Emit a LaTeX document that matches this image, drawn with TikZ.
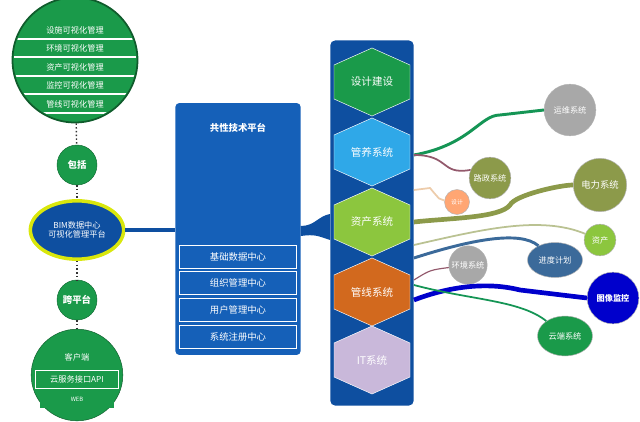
\documentclass[tikz,border=0pt]{standalone}
\usepackage{fontspec}
\setmainfont{Noto Sans CJK SC}
\usepackage{tikz}
\usetikzlibrary{shapes.geometric}
\definecolor{dark-green}{HTML}{1A9A4A}
\definecolor{panel-blue}{HTML}{1560B8}
\definecolor{deep-blue}{HTML}{0E4FA0}
\definecolor{pale-lav}{HTML}{C9B8DA}
\definecolor{hex-blue}{HTML}{2FA8E8}
\definecolor{hex-lime}{HTML}{8CC63E}
\definecolor{hex-orange}{HTML}{D2691E}
\definecolor{olive}{HTML}{8C9A4A}
\definecolor{grey-node}{HTML}{A8A8A8}
\definecolor{steel}{HTML}{3B6A9A}
\tikzset{ball/.style = {circle, draw=dark-green!70!black, fill=dark-green, text=white, align=center, font=\bfseries\footnotesize}}
\tikzset{stripe/.style = {fill=dark-green, text=white, minimum height=15, inner sep=0pt, font=\scriptsize}}
\tikzset{centre/.style = {draw=white, fill=panel-blue, text=white, minimum width=3.5cm, minimum height=0.7cm, font=\footnotesize}}
\tikzset{hexlabel/.style = {text=white, font=\small}}
\tikzset{leaf/.style = {circle, draw=gray!60, text=white, font=\scriptsize, inner sep=1pt, align=center}}
\tikzset{dots/.style = {very thick, dotted, gray!40!black}}

\begin{document}
\begin{tikzpicture}[x=0.03cm, y=-0.03cm]
\useasboundingbox (0,0) rectangle (640,422);

% left column
\node[circle, draw=dark-green!60!black, line width=1.5pt, fill=dark-green, minimum size=3.75cm] (top) at (75,60) {};
\begin{scope}
  \clip (75,60) circle (61);
  \foreach \y in {39, 57, 76, 94, 113}
    \draw[white, line width=2.5pt] (0,\y) -- (160,\y);
\end{scope}
\foreach \t/\y in {设施可视化管理/30, 环境可视化管理/48, 资产可视化管理/67, 监控可视化管理/85, 管线可视化管理/104}
  \node[text=white, font=\scriptsize] at (75,\y) {\t};
\node[ball, minimum size=1.2cm] (inc) at (77,165) {包括};
\node[ellipse, draw=yellow!85!green, line width=3pt, fill=deep-blue, text=white, minimum width=2.8cm, minimum height=1.75cm, align=center, font=\scriptsize] (bim) at (77,230) {BIM数据中心\\可视化管理平台};
\node[ball, minimum size=1.2cm] (cross) at (77,300) {跨平台};
\node[circle, draw=dark-green!60!black, fill=dark-green, minimum size=2.75cm] (bot) at (77,375) {};
\node[text=white, font=\scriptsize] (c1) at (77,357) {客户端};
\node[stripe, minimum width=2.5cm, draw=white] (c2) at (77,379) {云服务接口API};
\node[stripe, minimum width=2.2cm, font=\tiny] (c3) at (77,399) {WEB};
\draw[dots] (top) -- (inc);
\draw[dots] (inc) -- (bim);
\draw[dots] (bim) -- (cross);
\draw[dots] (cross) -- (bot);

% centre panel
\node[rounded corners=3pt, fill=panel-blue, minimum width=3.75cm, minimum height=7.55cm] (plat) at (238,229) {};
\node[text=white, font=\bfseries\footnotesize] (ptitle) at (238,128) {共性技术平台};
\foreach \t/\y/\n in {基础数据中心/257/p1, 组织管理中心/283/p2, 用户管理中心/310/p3, 系统注册中心/337/p4}
  \node[centre] (\n) at (238,\y) {\t};
\draw[deep-blue, line width=3pt] (bim.east) -- (plat.west |- bim.east);

% right column
\node[rounded corners=4pt, fill=deep-blue, minimum width=2.5cm, minimum height=10.95cm] (sys) at (372,223) {};
\fill[deep-blue] (plat.east |- 0,226) .. controls (315,226) and (318,216) .. (sys.west |- 0,214) -- (sys.west |- 0,240) .. controls (318,236) and (315,234) .. (plat.east |- 0,236) -- cycle;
\foreach \y/\c/\t/\n in {82/dark-green/设计建设/h1, 152/hex-blue/管养系统/h2, 222/hex-lime/资产系统/h3, 292/hex-orange/管线系统/h4, 360/pale-lav/IT系统/h5} {
  \filldraw[fill=\c, draw=white] (334,\y-17) -- (372,\y-34) -- (410,\y-17) -- (410,\y+17) -- (372,\y+34) -- (334,\y+17) -- cycle;
  \node[hexlabel] (\n) at (372,\y) {\t};
}

% leaves
\node[leaf, fill=grey-node, minimum size=1.55cm] (yw) at (570,110) {运维系统};
\node[leaf, fill=olive, minimum size=1.25cm] (lz) at (490,178) {路政系统};
\node[leaf, fill=orange!40!pink, minimum size=0.75cm, font=\tiny] (sj) at (457,202) {设计};
\node[leaf, fill=olive, minimum size=1.6cm, font=\footnotesize] (dl) at (600,185) {电力系统};
\node[leaf, fill=hex-lime, minimum size=0.95cm] (zc) at (600,240) {资产};
\node[leaf, ellipse, fill=steel, minimum width=1.65cm, minimum height=1.05cm] (jd) at (555,260) {进度计划};
\node[leaf, fill=grey-node, minimum size=1.15cm] (hj) at (468,265) {环境系统};
\node[leaf, fill=blue!80!black, minimum size=1.55cm, font=\bfseries\scriptsize] (tx) at (613,298) {图像监控};
\node[leaf, ellipse, fill=dark-green, minimum width=1.65cm, minimum height=1.2cm] (yd) at (565,336) {云端系统};

% branches
\draw[dark-green!80!teal, line width=2.5pt] (sys.east |- 0,155) .. controls (470,145) and (480,115) .. (500,115) -- (yw.west);
\draw[gray!70!purple, line width=1.5pt] (sys.east |- 0,155) .. controls (450,155) and (440,175) .. (470,170) -- (lz);
\draw[orange!30!brown!40, line width=1.5pt] (sys.east |- 0,190) -- (430,188) .. controls (440,200) .. (sj);
\draw[olive, line width=4pt] (sys.east |- 0,222) .. controls (450,218) and (500,218) .. (510,205) .. controls (515,195) and (560,185) .. (dl.west);
\draw[olive!60, line width=1.5pt] (sys.east |- 0,245) .. controls (480,230) and (540,215) .. (zc);
\draw[steel, line width=2.5pt] (sys.east |- 0,258) .. controls (470,240) and (520,230) .. (jd);
\draw[gray!70!purple, line width=1pt] (sys.east |- 0,280) .. controls (430,270) .. (hj);
\draw[blue!80!black, line width=4pt] (sys.east |- 0,300) .. controls (440,290) and (480,280) .. (520,290) -- (tx.west);
\draw[dark-green!80!teal, line width=1.5pt] (sys.east |- 0,285) .. controls (470,300) and (520,300) .. (yd);

\end{tikzpicture}
\end{document}
